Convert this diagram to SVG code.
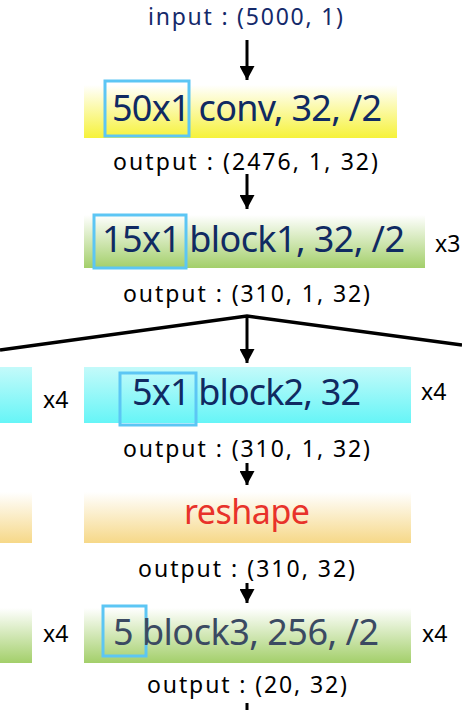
<svg xmlns="http://www.w3.org/2000/svg" width="462" height="710" viewBox="0 0 462 710">
<defs>
<linearGradient id="gY" x1="0" y1="0" x2="0" y2="1"><stop offset="0" stop-color="#ffffff"/><stop offset="1" stop-color="#f6f23a"/></linearGradient>
<linearGradient id="gG" x1="0" y1="0" x2="0" y2="1"><stop offset="0" stop-color="#ffffff"/><stop offset="1" stop-color="#a3cf6a"/></linearGradient>
<linearGradient id="gC" x1="0" y1="0" x2="0" y2="1"><stop offset="0" stop-color="#c4fafa"/><stop offset="1" stop-color="#66f5f7"/></linearGradient>
<linearGradient id="gO" x1="0" y1="0" x2="0" y2="1"><stop offset="0" stop-color="#ffffff"/><stop offset="1" stop-color="#f6d888"/></linearGradient>
<marker id="ah" markerUnits="userSpaceOnUse" markerWidth="14" markerHeight="15" refX="14" refY="7.5" orient="auto" viewBox="0 0 14 15"><path d="M0,0 L14,7.5 L0,15 z" fill="#000"/></marker>
</defs>
<style>
.lbl{font-family:"Noto Sans","Open Sans","DejaVu Sans",sans-serif;font-size:36px;fill:#102a62}
.out{font-family:"Noto Sans","Open Sans","DejaVu Sans",sans-serif;font-size:23px;fill:#000}
.inp{font-family:"Noto Sans","Open Sans","DejaVu Sans",sans-serif;font-size:23px;fill:#14296a}
.kbox{fill:none;stroke:#5cc6f4;stroke-width:3}
.rep{font-family:"Noto Sans","Open Sans","DejaVu Sans",sans-serif;font-size:23px;fill:#000}
.conn{stroke:#000;stroke-width:3;fill:none}
</style>
<g id="connectors">
<path class="conn" d="M247,40 L247,80" marker-end="url(#ah)"/>
<path class="conn" d="M247,174 L247,209" marker-end="url(#ah)"/>
<path class="conn" style="stroke-width:3.5" d="M0,350 L247,316 L462,345"/>
<path class="conn" d="M247,316 L247,363" marker-end="url(#ah)"/>
<path class="conn" d="M247,463 L247,485" marker-end="url(#ah)"/>
<path class="conn" d="M247,583 L247,603" marker-end="url(#ah)"/>
<path class="conn" d="M247,703 L247,710"/>
</g>
<g id="input"><text class="inp" x="148" y="25" textLength="195">input : (5000, 1)</text></g>
<g id="conv">
<rect x="84" y="85" width="313" height="53" fill="url(#gY)"/>
<rect class="kbox" x="105" y="81" width="84" height="55"/>
<text class="lbl" x="112" y="121" textLength="270">50x1 conv, 32, /2</text>
</g>
<g id="out1"><text class="out" x="113" y="170" textLength="265">output : (2476, 1, 32)</text></g>
<g id="block1">
<rect x="84" y="215" width="341" height="53" fill="url(#gG)"/>
<rect class="kbox" x="94" y="215" width="92" height="53"/>
<text class="lbl" x="102" y="252" textLength="303">15x1 block1, 32, /2</text>
<text class="rep" x="435" y="252">x3</text>
</g>
<g id="out2"><text class="out" x="123" y="302" textLength="247">output : (310, 1, 32)</text></g>
<g id="block2">
<rect x="0" y="367" width="32" height="56" fill="url(#gC)"/>
<rect x="84" y="367" width="327" height="56" fill="url(#gC)"/>
<rect class="kbox" x="120" y="373" width="76" height="52"/>
<text class="lbl" x="132" y="405" textLength="229">5x1 block2, 32</text>
<text class="rep" x="43" y="408">x4</text>
<text class="rep" x="421" y="400">x4</text>
</g>
<g id="out3"><text class="out" x="123" y="457" textLength="247">output : (310, 1, 32)</text></g>
<g id="reshape">
<rect x="0" y="492" width="32" height="51" fill="url(#gO)"/>
<rect x="84" y="492" width="327" height="51" fill="url(#gO)"/>
<text x="247" y="524" text-anchor="middle" style="font-family:'Noto Sans','Open Sans',sans-serif;font-size:34px;fill:#e8322a" textLength="126">reshape</text>
</g>
<g id="out4"><text class="out" x="138" y="577" textLength="217">output : (310, 32)</text></g>
<g id="block3">
<rect x="0" y="608" width="32" height="55" fill="url(#gG)"/>
<rect x="84" y="608" width="327" height="55" fill="url(#gG)"/>
<rect class="kbox" x="103" y="606" width="43" height="50"/>
<text class="lbl" x="113" y="645" textLength="266" style="fill:#3b4a62">5 block3, 256, /2</text>
<text class="rep" x="43" y="642">x4</text>
<text class="rep" x="422" y="642">x4</text>
</g>
<g id="out5"><text class="out" x="147" y="693" textLength="200">output : (20, 32)</text></g>
</svg>
